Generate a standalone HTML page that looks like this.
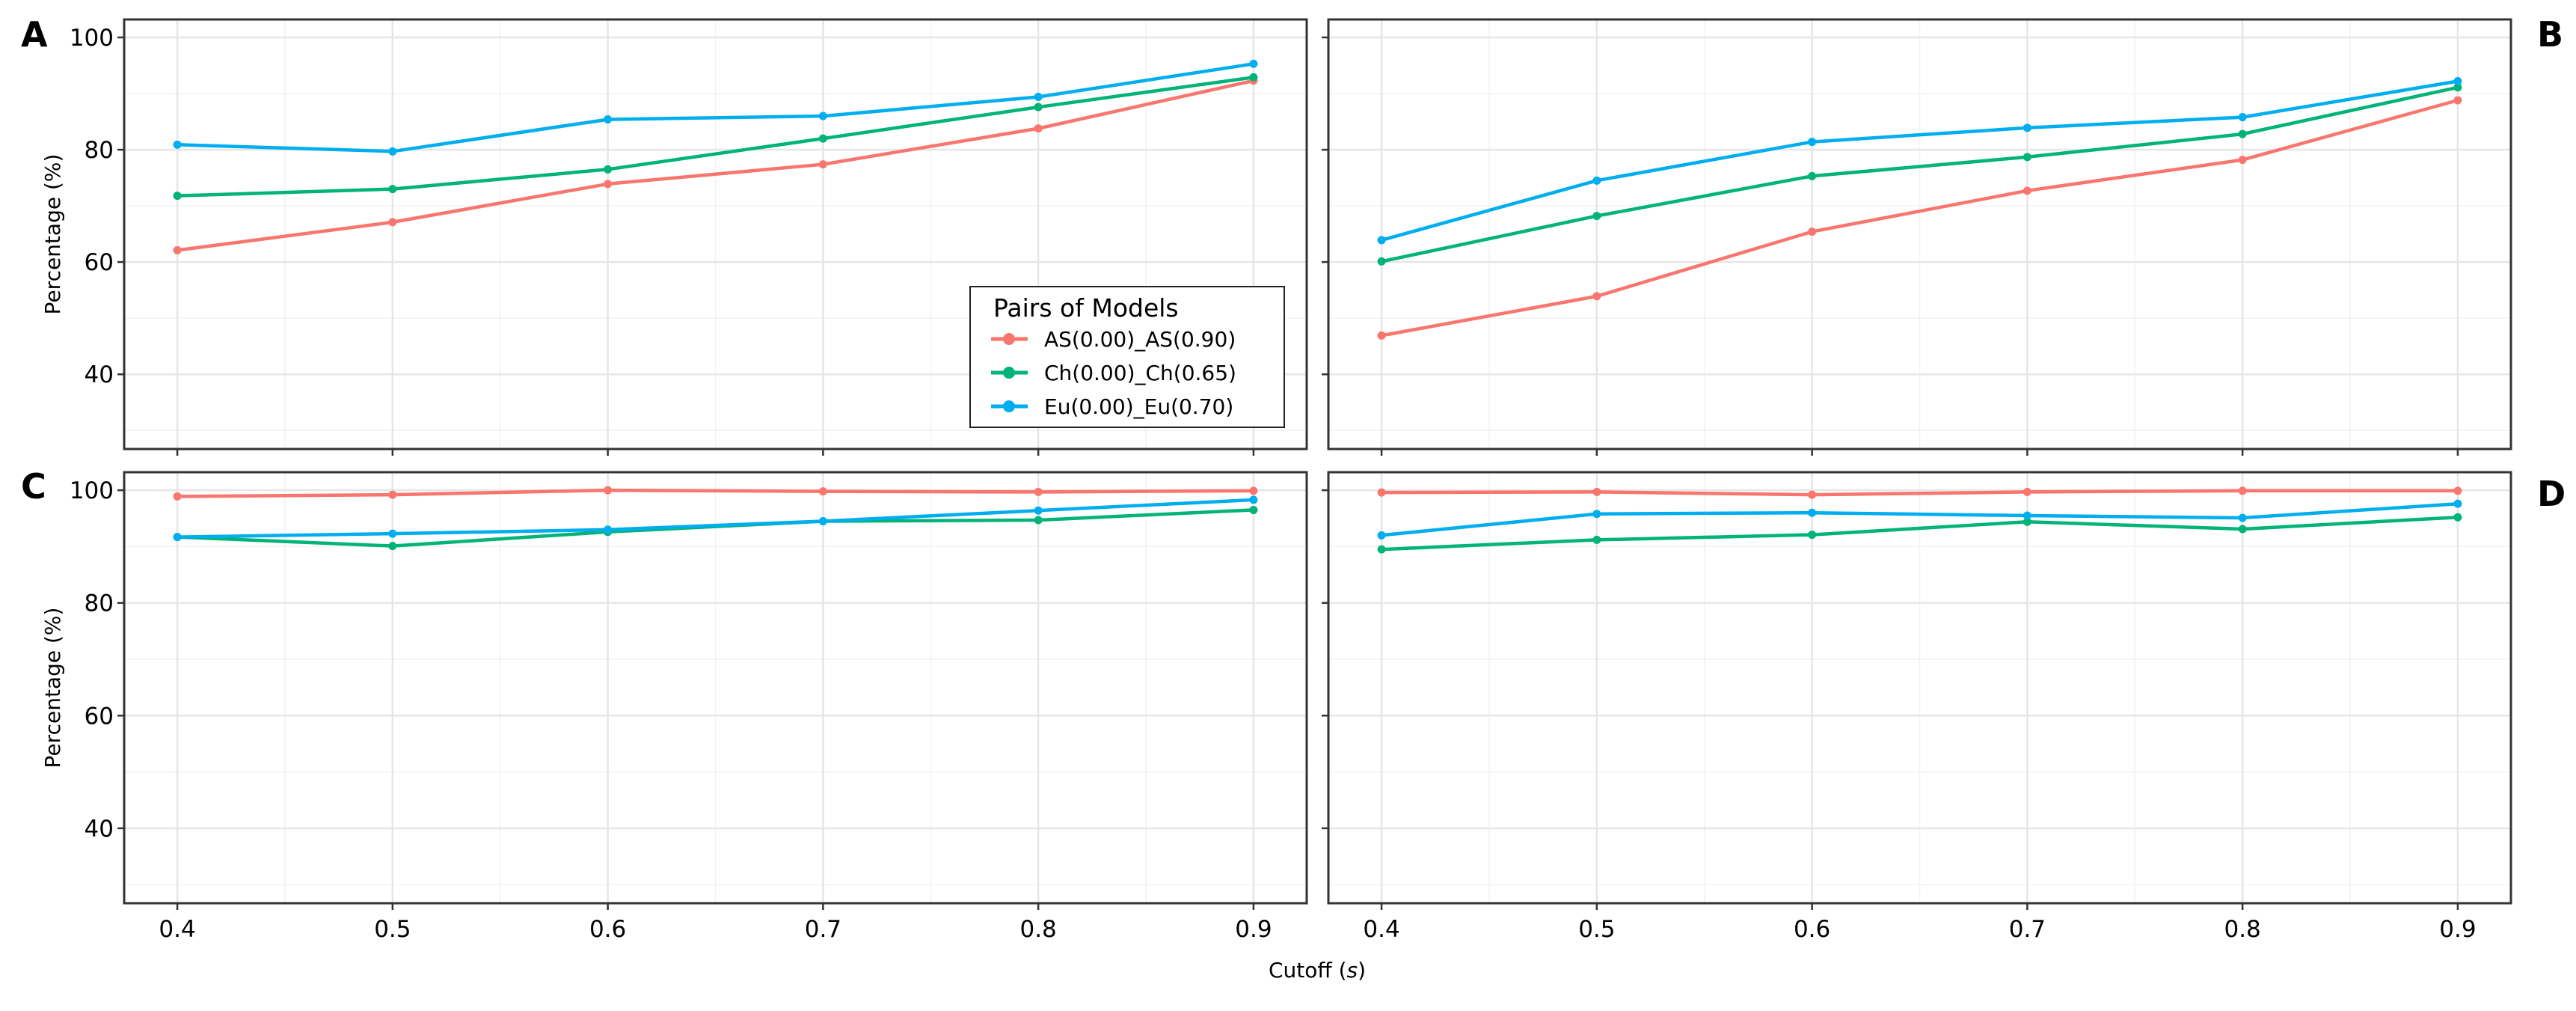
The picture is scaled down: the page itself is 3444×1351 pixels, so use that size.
<!DOCTYPE html>
<html><head><meta charset="utf-8"><style>
html,body{margin:0;padding:0;background:#fff}
svg text{font-family:"DejaVu Sans","Liberation Sans",sans-serif}
</style></head><body>
<svg id="chart" width="3444" height="1346" xmlns="http://www.w3.org/2000/svg"></svg>
<script>
const cutoffs=[0.4,0.5,0.6,0.7,0.8,0.9];
const seriesNames=["AS(0.00)_AS(0.90)","Ch(0.00)_Ch(0.65)","Eu(0.00)_Eu(0.70)"];
const panelA_AS=[62.1,67.1,73.9,77.4,83.8,92.3];
const panelA_Ch=[71.8,73.0,76.5,82.0,87.6,92.9];
const panelA_Eu=[80.9,79.7,85.4,86.0,89.4,95.3];
const panelB_AS=[46.9,53.9,65.4,72.7,78.2,88.8];
const panelB_Ch=[60.1,68.2,75.3,78.7,82.8,91.1];
const panelB_Eu=[63.9,74.5,81.4,83.9,85.8,92.2];
const panelC_AS=[98.9,99.2,100,99.8,99.7,99.9];
const panelC_Ch=[91.7,90.1,92.6,94.5,94.7,96.5];
const panelC_Eu=[91.7,92.3,93.0,94.5,96.4,98.3];
const panelD_AS=[99.6,99.7,99.2,99.7,99.9,99.9];
const panelD_Ch=[89.5,91.2,92.1,94.4,93.1,95.2];
const panelD_Eu=[92.0,95.8,96.0,95.5,95.1,97.6];
const yTicks=[40,60,80,100];
const yMinor=[30,50,70,90];
const xTickLabels=["0.4","0.5","0.6","0.7","0.8","0.9"];
const xMinor=[0.45,0.55,0.65,0.75,0.85];

const colors=["#F8766D","#00B378","#00AEEF"];
const NS="http://www.w3.org/2000/svg";
const svg=document.getElementById('chart');
function mk(tag,attrs,parent){const e=document.createElementNS(NS,tag);for(const k in attrs)e.setAttribute(k,attrs[k]);(parent||svg).appendChild(e);return e;}

const panels=[
 {id:'a',letter:'A',x0:166,x1:1747,y0:26,y1:600,data:[panelA_AS,panelA_Ch,panelA_Eu],left:true,bottomLabels:false,lx:28,ly:62},
 {id:'b',letter:'B',x0:1776,x1:3357,y0:26,y1:600,data:[panelB_AS,panelB_Ch,panelB_Eu],left:false,bottomLabels:false,lx:3392,ly:62},
 {id:'c',letter:'C',x0:166,x1:1747,y0:631,y1:1207,data:[panelC_AS,panelC_Ch,panelC_Eu],left:true,bottomLabels:true,lx:28,ly:666},
 {id:'d',letter:'D',x0:1776,x1:3357,y0:631,y1:1207,data:[panelD_AS,panelD_Ch,panelD_Eu],left:false,bottomLabels:true,lx:3392,ly:676}
];
const xMin=0.3753,xMax=0.9247,yMin=26.7,yMax=103.2;

panels.forEach(p=>{
  const g=mk('g',{});
  
  
  const X=v=>p.x0+(v-xMin)/(xMax-xMin)*(p.x1-p.x0);
  const Y=v=>p.y1-(v-yMin)/(yMax-yMin)*(p.y1-p.y0);
  yMinor.forEach(v=>{const l=mk('line',{x1:p.x0,x2:p.x1,y1:Y(v),y2:Y(v),stroke:'#f2f2f2','stroke-width':1.5},g);});
  xMinor.forEach(v=>{const l=mk('line',{x1:X(v),x2:X(v),y1:p.y0,y2:p.y1,stroke:'#f2f2f2','stroke-width':1.5},g);});
  yTicks.forEach(v=>{const l=mk('line',{x1:p.x0,x2:p.x1,y1:Y(v),y2:Y(v),stroke:'#e6e6e6','stroke-width':2.5},g);
    const t=mk('line',{x1:p.x0-9,x2:p.x0,y1:Y(v),y2:Y(v),stroke:'#333','stroke-width':2.5},g);
    if(p.left){const tx=mk('text',{x:p.x0-14,y:Y(v)+11,'text-anchor':'end','font-size':31,fill:'#000'},g);tx.textContent=v;}
  });
  cutoffs.forEach((v,i)=>{const l=mk('line',{x1:X(v),x2:X(v),y1:p.y0,y2:p.y1,stroke:'#e6e6e6','stroke-width':2.5},g);
    const t=mk('line',{x1:X(v),x2:X(v),y1:p.y1,y2:p.y1+9,stroke:'#333','stroke-width':2.5},g);
    if(p.bottomLabels){const tx=mk('text',{x:X(v),y:p.y1+45,'text-anchor':'middle','font-size':31,fill:'#000'},g);tx.textContent=xTickLabels[i];}
  });
  p.data.forEach((vals,si)=>{
    const pts=vals.map((v,i)=>X(cutoffs[i]).toFixed(1)+','+Y(v).toFixed(1)).join(' ');
    const pl=mk('polyline',{points:pts,fill:'none',stroke:colors[si],'stroke-width':4.5,'stroke-linejoin':'round'},g);
    
    
    vals.forEach((v,i)=>{const c=mk('circle',{cx:X(cutoffs[i]),cy:Y(v),r:5.5,fill:colors[si]},g);
      
      });
  });
  const fr=mk('rect',{x:p.x0,y:p.y0,width:p.x1-p.x0,height:p.y1-p.y0,fill:'none',stroke:'#333','stroke-width':3},g);
  
  const lt=mk('text',{x:p.lx,y:p.ly,'font-size':46,'font-weight':'bold','font-family':'Liberation Sans, sans-serif',fill:'#000'},g);
  lt.textContent=p.letter;
});

// legend
const lg=mk('g',{});


const lb=mk('rect',{x:1297,y:383,width:420,height:188,fill:'#fff',stroke:'#222','stroke-width':2},lg);

const lt=mk('text',{x:1328,y:423,'font-size':33,fill:'#000'},lg);lt.textContent='Pairs of Models';

seriesNames.forEach((n,i)=>{
  const yy=453+i*45;
  const e=mk('g',{},lg);
  
  
  mk('line',{x1:1325,x2:1374,y1:yy,y2:yy,stroke:colors[i],'stroke-width':5},e);
  mk('circle',{cx:1349,cy:yy,r:8,fill:colors[i]},e);
  const t=mk('text',{x:1396,y:yy+10,'font-size':28,fill:'#000'},e);t.textContent=n;
});

// axis titles
[313,919].forEach((cy,i)=>{
  const t=mk('text',{x:0,y:0,transform:`translate(80,${cy}) rotate(-90)`,'text-anchor':'middle','font-size':28,fill:'#000'});
  t.textContent='Percentage (%)';
  
  
});
const xt=mk('text',{x:1761,y:1306,'text-anchor':'middle','font-size':28,fill:'#000'});
xt.innerHTML='Cutoff (<tspan font-style="italic">s</tspan>)';


</script>
</body></html>
